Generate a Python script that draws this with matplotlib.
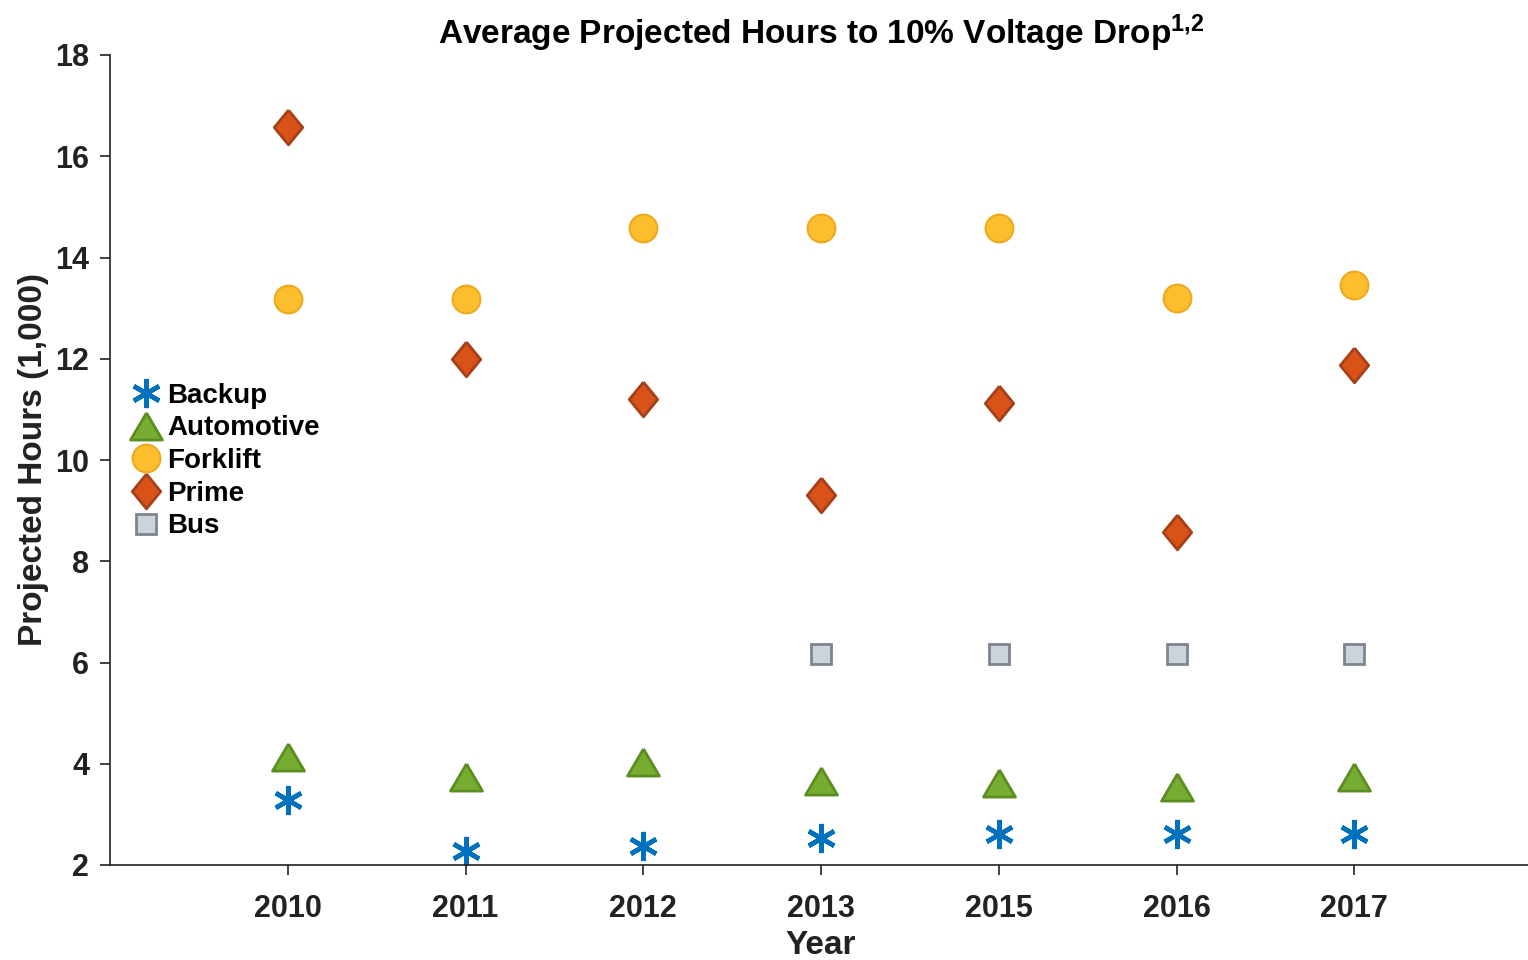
import matplotlib as mpl
mpl.use("Agg")
import matplotlib.pyplot as plt
import numpy as np

plt.rcParams["font.family"] = ["Liberation Sans", "DejaVu Sans"]
plt.rcParams["font.weight"] = "bold"
plt.rcParams["mathtext.fontset"] = "custom"
plt.rcParams["mathtext.rm"] = "Liberation Sans:bold"
plt.rcParams["mathtext.it"] = "Liberation Sans:bold"
plt.rcParams["mathtext.bf"] = "Liberation Sans:bold"

# data (hours, thousands)
years = ["2010", "2011", "2012", "2013", "2015", "2016", "2017"]
backup = [3.28, 2.28, 2.37, 2.53, 2.61, 2.61, 2.61]
automotive = [4.13, 3.74, 4.04, 3.66, 3.62, 3.54, 3.74]
forklift = [13.19, 13.19, 14.59, 14.59, 14.59, 13.2, 13.46]
prime = [16.57, 12.0, 11.21, 9.31, 11.13, 8.58, 11.88]
bus = [np.nan, np.nan, np.nan, 6.17, 6.17, 6.17, 6.17]

x = np.arange(1, len(years) + 1)

# marker shapes closer to the MATLAB look
tall_diamond = [(0, 1), (0.82, 0), (0, -1), (-0.82, 0), (0, 1)]
wide_triangle = [(0, 0.85), (1, -0.85), (-1, -0.85), (0, 0.85)]

fig = plt.figure(figsize=(15.28, 9.6), dpi=100)
ax = fig.add_axes([110 / 1528, 1 - 865 / 960, 1422 / 1528, (865 - 55) / 960])

ax.plot(x, backup, linestyle="none", marker=(6, 2, 0), markersize=21,
        markeredgewidth=3.3, color="#0072BD", label="Backup")
ax.plot(x, automotive, linestyle="none", marker=wide_triangle, markersize=23,
        markerfacecolor="#77AC30", markeredgecolor="#5B8E22", markeredgewidth=2,
        label="Automotive")
ax.plot(x, forklift, linestyle="none", marker="o", markersize=20,
        markerfacecolor="#FDBE2E", markeredgecolor="#EFA91E", markeredgewidth=1.5,
        label="Forklift")
ax.plot(x, prime, linestyle="none", marker=tall_diamond, markersize=25,
        markerfacecolor="#D95319", markeredgecolor="#A5401A", markeredgewidth=2,
        label="Prime")
ax.plot(x, bus, linestyle="none", marker="s", markersize=14.5,
        markerfacecolor="#CDD3DB", markeredgecolor="#7C8590", markeredgewidth=2,
        label="Bus")

ax.set_xlim(0, 8)
ax.set_ylim(2, 18)
ax.set_xticks(x)
ax.set_xticklabels(years)
ax.set_yticks(np.arange(2, 19, 2))

for s in ["top", "right"]:
    ax.spines[s].set_visible(False)
for s in ["left", "bottom"]:
    ax.spines[s].set_linewidth(1.2)
    ax.spines[s].set_color("#222222")

ax.tick_params(axis="both", direction="out", length=7, width=1.2,
               labelsize=22, colors="#222222", pad=8)
ax.tick_params(axis="x", pad=14)

ax.set_xlabel("Year", fontsize=24, fontweight="bold", color="#222222", labelpad=4)
ax.set_ylabel("Projected Hours (1,000)", fontsize=24, fontweight="bold",
              color="#222222", labelpad=4)
ax.set_title("Average Projected Hours to 10% Voltage Drop$^{1{,}2}$",
             fontsize=24, fontweight="bold", pad=8)

leg = ax.legend(loc="upper left", bbox_to_anchor=(0.0, 0.616), frameon=False,
                fontsize=20, handletextpad=0.05, labelspacing=0.24,
                handlelength=1.4, borderpad=0, borderaxespad=0.6, markerscale=1.0)

fig.savefig("out.png", dpi=100)
plt.close(fig)
